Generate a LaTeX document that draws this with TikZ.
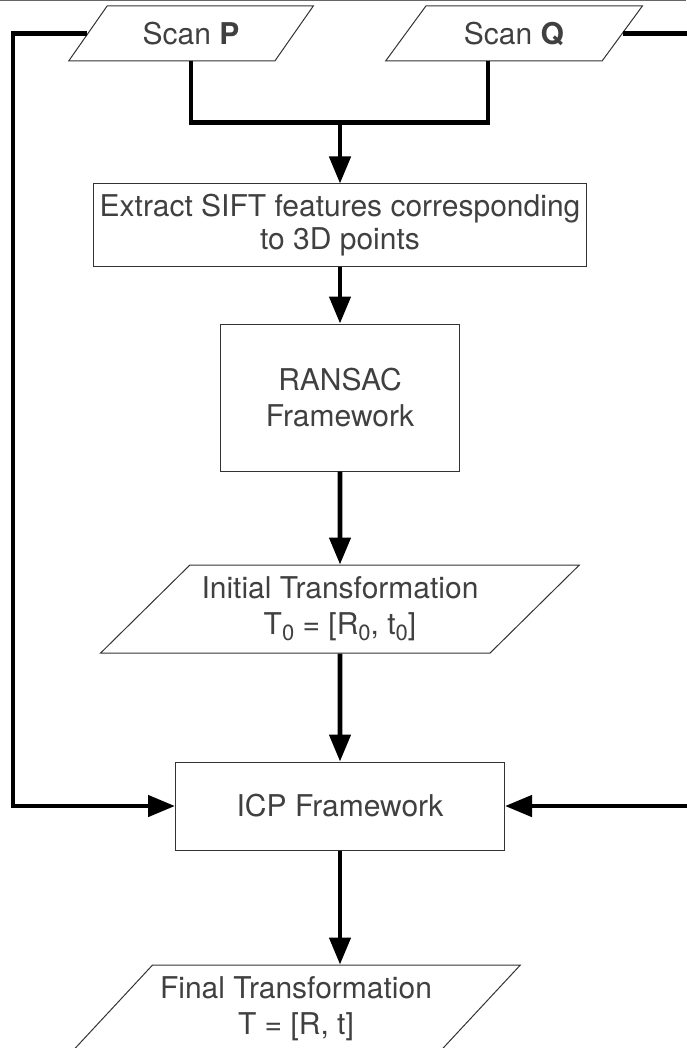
\documentclass[tikz,border=0pt]{standalone}
\usepackage{fontspec}
\setmainfont{TeX Gyre Heros}
\usepackage{xcolor}
\usepackage{tikz}
\usetikzlibrary{arrows.meta,positioning,shapes.geometric,calc}
\definecolor{txtgray}{HTML}{404040}
\definecolor{edgegray}{HTML}{333333}
\newcommand{\lowsub}[1]{\raisebox{-0.35ex}{\fontsize{11}{11}\selectfont #1}}

\begin{document}
\begin{tikzpicture}[
  x=0.5pt,y=-0.5pt,
  font=\fontsize{15}{18}\selectfont,
  box/.style={draw=edgegray,line width=0.5pt,text=txtgray,align=center,inner sep=0pt},
  io/.style={box,trapezium,trapezium left angle=#1,trapezium right angle=180-#1,trapezium stretches=true},
  io/.default=46,
  link/.style={line width=2.3pt},
  arrow/.style={-{Triangle[length=13.5pt,width=10.5pt]},line width=2.3pt}
]
\useasboundingbox (0,0) rectangle (686,1048);
\draw[gray!80!black,line width=0.6pt] (0,0.6) -- (686,0.6);
\node[box,minimum width=246.5pt,minimum height=41pt,font=\fontsize{15}{16.5}\selectfont] (extract) at (340,225) {Extract SIFT features corresponding\\to 3D points};
\node[io,minimum width=123pt,minimum height=27.5pt,above=61pt of extract,xshift=-74.5pt] (scanP) {Scan \textbf{P}};
\node[io,minimum width=128.5pt,minimum height=27.5pt,above=61pt of extract,xshift=87pt] (scanQ) {Scan \textbf{Q}};
\node[box,minimum width=119.5pt,minimum height=73.5pt,below=28.5pt of extract] (ransac) {RANSAC\\Framework};
\node[io=38,minimum width=240pt,minimum height=44pt,below=46.5pt of ransac] (initial) {Initial Transformation\\T\lowsub{0} = [R\lowsub{0}, t\lowsub{0}]};
\node[box,minimum width=164.5pt,minimum height=44pt,below=54pt of initial] (icp) {ICP Framework};
\node[io=40,minimum width=224.5pt,minimum height=43.5pt,below=57pt of icp,xshift=-22pt] (final) {Final Transformation\\T = [R, t]};
\coordinate[above=30.5pt of extract] (join);
\coordinate (leftrail) at (13,0);
\coordinate (rightrail) at (692,0);
% scans merge into the feature step
\draw[link] (scanP.south) |- (join) -| ([xshift=-13pt]scanQ.south);
\draw[arrow] (join) -- (extract);
\draw[arrow] (extract) -- (ransac);
\draw[arrow] (ransac) -- (initial);
\draw[arrow] (initial) -- (icp);
\draw[arrow] (icp) -- (icp.south |- final.north);
% raw scans also feed ICP
\draw[arrow] (scanP.west) -- (scanP.west -| leftrail) |- (icp.west);
\draw[arrow] (scanQ.east) -- (scanQ.east -| rightrail) |- (icp.east);
\end{tikzpicture}
\end{document}
